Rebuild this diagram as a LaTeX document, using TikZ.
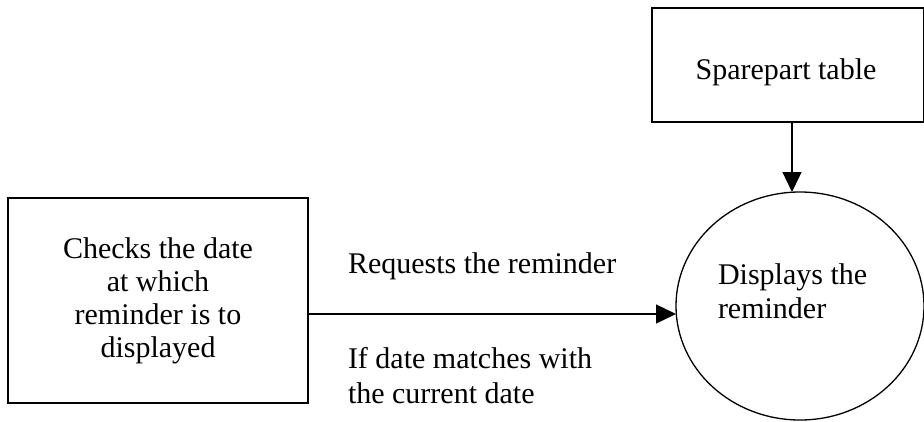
\documentclass[tikz,border=0pt]{standalone}
\usepackage{fontspec}
\setmainfont{Liberation Serif}
\usetikzlibrary{arrows.meta,shapes.geometric}
\begin{document}
\begin{tikzpicture}[x=1pt,y=1pt,
  line width=1.3pt,
  every node/.style={inner sep=0pt, outer sep=0pt},
  boxshape/.style={draw, rectangle},
  procshape/.style={draw, ellipse},
  txt/.style={font=\fontsize{30}{33}\selectfont},
  flowarrow/.style={-{Triangle[length=20pt,width=19pt]}}]
  \useasboundingbox (0,0) rectangle (924,-421);

  % external entity: the reminder check
  \node[boxshape, txt, align=center, minimum width=300pt, minimum height=205pt]
    (check) at (158,-300.5)
    {Checks the date\\at which\\reminder is to\\displayed};

  % data store (right edge runs past the page)
  \node[boxshape, minimum width=272pt, minimum height=114pt]
    (store) at (788,-65) {};
  \node[txt, anchor=base] (storetext) at (786,-79) {Sparepart table};

  % process
  \node[procshape, minimum width=248pt, minimum height=228pt]
    (show) at (800,-306) {};
  \node[txt, anchor=base west, align=left, font=\fontsize{30}{34}\selectfont]
    (showtext1) at (718,-284) {Displays the};
  \node[txt, anchor=base west] (showtext2) at (718,-318) {reminder};

  % flow labels
  \node[txt, anchor=base west] (req) at (348,-273) {Requests the reminder};
  \node[txt, anchor=base west] (cond1) at (348,-368) {If date matches with};
  \node[txt, anchor=base west] (cond2) at (348,-403) {the current date};

  % connectors
  \coordinate (flowlevel) at (0,-314);
  \coordinate (dropline) at (792,0);
  \draw[flowarrow] (check.east |- flowlevel) -- (show.west |- flowlevel);
  \draw[flowarrow] (store.south -| dropline) -- (show.north -| dropline);
\end{tikzpicture}
\end{document}
